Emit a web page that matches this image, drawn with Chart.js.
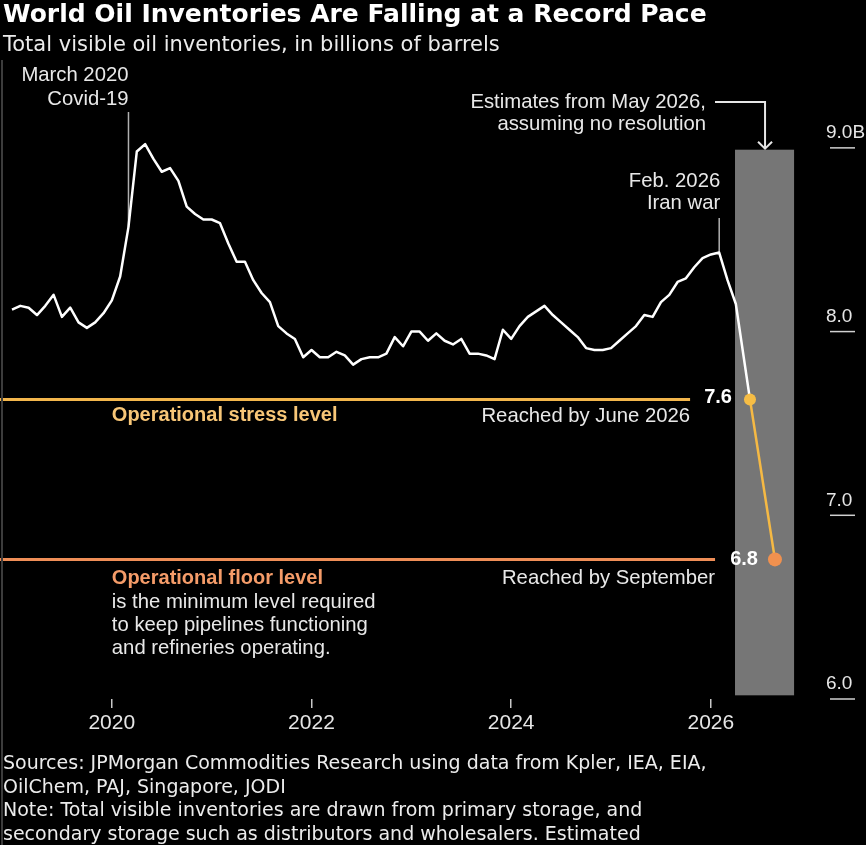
<!DOCTYPE html>
<html><head><meta charset="utf-8">
<script src="https://cdn.jsdelivr.net/npm/chart.js@4.4.1/dist/chart.umd.min.js"></script>
<style>
html,body{margin:0;padding:0;background:#000;width:866px;height:845px;overflow:hidden}
#wrap{position:relative;width:866px;height:845px;background:#000}
canvas{position:absolute;left:0;top:0}
.t{position:absolute;left:3px;color:#fff;white-space:nowrap;font-family:"DejaVu Sans",sans-serif}
#title{top:0;font-weight:bold;font-size:25px;line-height:28px}
#sub{top:31px;font-size:21px;line-height:26px;color:#ececec}
#notes{top:751px;font-size:19px;line-height:23.5px;color:#ececec}
#edge{position:absolute;left:1px;top:60px;width:2px;height:785px;background:#3c3c3c}
</style></head>
<body>
<div id="wrap">
<canvas id="c" width="866" height="845"></canvas>
<div id="edge"></div>
<div class="t" id="title">World Oil Inventories Are Falling at a Record Pace</div>
<div class="t" id="sub">Total visible oil inventories, in billions of barrels</div>
<div class="t" id="notes">Sources: JPMorgan Commodities Research using data from Kpler, IEA, EIA,<br>OilChem, PAJ, Singapore, JODI<br>Note: Total visible inventories are drawn from primary storage, and<br>secondary storage such as distributors and wholesalers. Estimated</div>
</div>
<script>
// Monthly inventories (billions of barrels), month index 0 = Jan 2019
const inventory = [
  8.12, 8.14, 8.13, 8.09, 8.14, 8.20, 8.08, 8.13, 8.05, 8.02, 8.05, 8.10, // 2019
  8.17, 8.30, 8.57, 8.98, 9.02, 8.94, 8.87, 8.89, 8.82, 8.68, 8.64, 8.61, // 2020
  8.61, 8.59, 8.48, 8.38, 8.38, 8.28, 8.21, 8.16, 8.03, 7.99, 7.96, 7.86, // 2021
  7.90, 7.86, 7.86, 7.89, 7.87, 7.82, 7.85, 7.86, 7.86, 7.88, 7.97, 7.92, // 2022
  8.00, 8.00, 7.95, 7.99, 7.95, 7.93, 7.96, 7.88, 7.88, 7.87, 7.85, 8.01, // 2023
  7.96, 8.03, 8.08, 8.11, 8.14, 8.09, 8.05, 8.01, 7.97, 7.91, 7.90, 7.90, // 2024
  7.91, 7.95, 7.99, 8.03, 8.09, 8.08, 8.16, 8.20, 8.27, 8.29, 8.35, 8.40, // 2025
  8.42, 8.43, 8.28, 8.15                                                  // 2026
];
const projMonths = [88.7, 91.7];          // June 2026, September 2026
const projValues = [7.63, 6.76];
const projLabels = ['7.6', '6.8'];
const stressLevel = 7.63;
const floorLevel = 6.76;
const estimateSpan = [86.9, 94.0];
const estimateRange = [8.99, 6.02];
const covidMonth = 14;
const warMonth = 85;
const xTicks = [12, 36, 60, 84];
const xTickLabels = ['2020', '2022', '2024', '2026'];
const yTicks = [6, 7, 8, 9];

const FONT = '"Liberation Sans", Arial, sans-serif';
const histPoints = inventory.map((v, i) => ({x: i, y: v}));
histPoints.push({x: projMonths[0], y: projValues[0]});
const projPoints = projMonths.map((m, i) => ({x: m, y: projValues[i]}));

function txt(ctx, s, x, y, align, color, bold) {
  ctx.font = (bold ? 'bold 20px ' : '20.3px ') + FONT;
  ctx.fillStyle = color;
  ctx.textAlign = align;
  ctx.textBaseline = 'middle';
  ctx.fillText(s, x, y);
}

const annot = {
  id: 'annot',
  beforeDatasetsDraw(chart) {
    const {ctx, scales: {x, y}} = chart;
    ctx.save();
    // estimate band
    const bx0 = x.getPixelForValue(estimateSpan[0]), bx1 = x.getPixelForValue(estimateSpan[1]);
    const by0 = y.getPixelForValue(estimateRange[0]), by1 = y.getPixelForValue(estimateRange[1]);
    ctx.fillStyle = '#767676';
    ctx.fillRect(bx0, by0, bx1 - bx0, by1 - by0);
    // level lines
    ctx.lineWidth = 3;
    ctx.strokeStyle = '#f3b64c';
    ctx.beginPath();
    ctx.moveTo(0, y.getPixelForValue(stressLevel));
    ctx.lineTo(x.getPixelForValue(81.5), y.getPixelForValue(stressLevel));
    ctx.stroke();
    ctx.strokeStyle = '#ef8e57';
    ctx.beginPath();
    ctx.moveTo(0, y.getPixelForValue(floorLevel));
    ctx.lineTo(x.getPixelForValue(84.5), y.getPixelForValue(floorLevel));
    ctx.stroke();
    // event lines
    ctx.lineWidth = 1.5;
    ctx.strokeStyle = '#b0b0b0';
    const cx = x.getPixelForValue(covidMonth);
    ctx.beginPath(); ctx.moveTo(cx, 112); ctx.lineTo(cx, y.getPixelForValue(inventory[covidMonth])); ctx.stroke();
    const wx = x.getPixelForValue(warMonth);
    ctx.beginPath(); ctx.moveTo(wx, 218); ctx.lineTo(wx, y.getPixelForValue(inventory[warMonth])); ctx.stroke();
    // arrow to estimate band
    const ax = (bx0 + bx1) / 2 + 0.5;
    ctx.strokeStyle = '#e6e6e6';
    ctx.lineWidth = 2;
    ctx.beginPath(); ctx.moveTo(715, 102); ctx.lineTo(ax, 102); ctx.lineTo(ax, by0 - 1); ctx.stroke();
    ctx.beginPath(); ctx.moveTo(ax - 7, by0 - 8); ctx.lineTo(ax, by0 - 1); ctx.lineTo(ax + 7, by0 - 8); ctx.stroke();
    ctx.restore();
  },
  afterDraw(chart) {
    const {ctx, scales: {x, y}, chartArea: ca} = chart;
    ctx.save();
    // right axis tick dashes
    ctx.strokeStyle = '#d0d0d0';
    ctx.lineWidth = 1.5;
    yTicks.forEach(v => {
      const py = y.getPixelForValue(v);
      ctx.beginPath(); ctx.moveTo(ca.right + 32, py); ctx.lineTo(ca.right + 57, py); ctx.stroke();
    });
    const cx = x.getPixelForValue(covidMonth);
    const wx = x.getPixelForValue(warMonth);
    const lx = x.getPixelForValue(12);
    const light = '#e8e8e8';
    txt(ctx, 'March 2020', cx, 75, 'right', light);
    txt(ctx, 'Covid-19', cx, 99, 'right', light);
    txt(ctx, 'Estimates from May 2026,', 706, 102, 'right', light);
    txt(ctx, 'assuming no resolution', 706, 124, 'right', light);
    txt(ctx, 'Feb. 2026', wx + 1, 181, 'right', light);
    txt(ctx, 'Iran war', wx + 1, 203, 'right', light);
    const sy = y.getPixelForValue(stressLevel);
    const fy = y.getPixelForValue(floorLevel);
    txt(ctx, 'Operational stress level', lx, sy + 16, 'left', '#f7c677', true);
    txt(ctx, 'Reached by June 2026', x.getPixelForValue(81.5), sy + 17, 'right', light);
    txt(ctx, projLabels[0], x.getPixelForValue(projMonths[0]) - 18, sy - 2, 'right', '#ffffff', true);
    txt(ctx, 'Operational floor level', lx, fy + 19, 'left', '#f59c69', true);
    txt(ctx, 'is the minimum level required', lx, fy + 43, 'left', light);
    txt(ctx, 'to keep pipelines functioning', lx, fy + 66, 'left', light);
    txt(ctx, 'and refineries operating.', lx, fy + 89, 'left', light);
    txt(ctx, 'Reached by September', x.getPixelForValue(84.5), fy + 19, 'right', light);
    txt(ctx, projLabels[1], x.getPixelForValue(projMonths[1]) - 17, fy, 'right', '#ffffff', true);
    ctx.restore();
  }
};

const xMin = -12 / 8.32;
const xMax = (798 - 12) / 8.32;

new Chart(document.getElementById('c'), {
  type: 'line',
  data: {
    datasets: [
      {
        data: projPoints,
        borderColor: '#f5b944',
        borderWidth: 2.5,
        pointRadius: [6, 7],
        pointBackgroundColor: ['#f6bd45', '#f0914f'],
        pointBorderWidth: 0,
        tension: 0
      },
      {
        data: histPoints,
        borderColor: '#ffffff',
        borderWidth: 2.5,
        borderJoinStyle: 'round',
        pointRadius: 0,
        tension: 0
      }
    ]
  },
  options: {
    responsive: false,
    animation: false,
    events: [],
    layout: {autoPadding: false, padding: {left: 0, top: 129.5, right: 0, bottom: 110}},
    plugins: {legend: {display: false}, tooltip: {enabled: false}},
    scales: {
      x: {
        type: 'linear', min: xMin, max: xMax,
        afterBuildTicks: s => { s.ticks = xTicks.map(v => ({value: v})); },
        afterFit: s => { s.height = 36; s.paddingLeft = 0; s.paddingRight = 0; },
        grid: {display: true, drawOnChartArea: false, drawTicks: true, tickLength: 9, color: '#c8c8c8', lineWidth: 1.5},
        border: {display: false},
        ticks: {
          color: '#e6e6e6', font: {family: FONT, size: 21}, padding: 3,
          maxRotation: 0, autoSkip: false, align: 'start', labelOffset: -23.4,
          callback: v => xTickLabels[xTicks.indexOf(v)]
        }
      },
      y: {
        position: 'right', min: 6.0, max: 9.1,
        afterBuildTicks: s => { s.ticks = yTicks.map(v => ({value: v})); },
        afterFit: s => { s.width = 68; s.paddingTop = 0; s.paddingBottom = 0; },
        grid: {display: false, drawTicks: false},
        border: {display: false},
        ticks: {
          color: '#e6e6e6', font: {family: FONT, size: 19}, padding: 28, labelOffset: -15,
          callback: v => v === 9 ? '9.0B' : v.toFixed(1)
        }
      }
    }
  },
  plugins: [annot]
});
</script>
</body></html>
